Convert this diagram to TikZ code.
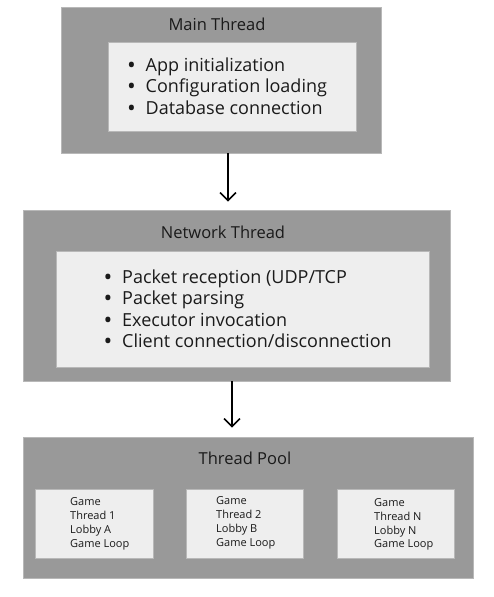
\documentclass[tikz,border=0pt]{standalone}
\usepackage{fontspec}
\setmainfont{Open Sans}
\usetikzlibrary{arrows.meta,calc}
\definecolor{outerg}{HTML}{999999}
\definecolor{innerg}{HTML}{EEEEEE}
\definecolor{edgeg}{HTML}{B8B8B8}
\definecolor{txt}{HTML}{1A1A1A}
\newcommand{\bul}{\makebox[17.5pt][l]{{\bfseries\textbullet}}}
\tikzset{
  outerbox/.style={rectangle, fill=outerg, draw=edgeg, line width=0.6pt, inner sep=0pt},
  innerbox/.style={rectangle, fill=innerg, draw=edgeg, line width=0.5pt, inner sep=0pt},
  titletext/.style={text=txt, font=\fontsize{16.5}{19}\selectfont, inner sep=0pt},
  bullettext/.style={text=txt, font=\fontsize{18}{21.5}\selectfont, align=left, inner sep=0pt, anchor=west},
  gametext/.style={text=txt, font=\fontsize{11}{13.8}\selectfont, align=left, inner sep=0pt, anchor=west},
  arr/.style={-{Straight Barb[length=8pt,width=16pt,line width=1.6pt]}, line width=1.6pt, black}
}
\begin{document}
\begin{tikzpicture}[x=1pt,y=-1pt]
\useasboundingbox (0,0) rectangle (494,597);
\fill[white] (0,0) rectangle (494,597);
% Main thread
\node[outerbox, minimum width=320, minimum height=146] (main) at (221,80) {};
\node[titletext] (mainT) at (217,24) {Main Thread};
\node[innerbox, minimum width=248, minimum height=89] (mainI) at (232,86.5) {};
\node[bullettext] (mainL) at (128,86) {\bul App initialization\\\bul Configuration loading\\\bul Database connection};
% Network thread
\node[outerbox, minimum width=427, minimum height=171] (net) at (236.5,295.5) {};
\node[titletext] (netT) at (223,232) {Network Thread};
\node[innerbox, minimum width=373, minimum height=116] (netI) at (242.5,309) {};
\node[bullettext] (netL) at (104.5,308.5) {\bul Packet reception (UDP/TCP\\\bul Packet parsing\\\bul Executor invocation\\\bul Client connection/disconnection};
% Thread pool
\node[outerbox, minimum width=450, minimum height=141] (pool) at (248,507.5) {};
\node[titletext] (poolT) at (245,458) {Thread Pool};
\node[innerbox, minimum width=118, minimum height=69] (g1) at (94,523.5) {};
\node[innerbox, minimum width=117, minimum height=69] (g2) at (244.5,523.5) {};
\node[innerbox, minimum width=117, minimum height=69] (g3) at (395.5,523.5) {};
\node[gametext] (g1L) at (70,524) {Game\\Thread 1\\Lobby A\\Game Loop};
\node[gametext] (g2L) at (216,523) {Game\\Thread 2\\Lobby B\\Game Loop};
\node[gametext] (g3L) at (374,524.5) {Game\\Thread N\\Lobby N\\Game Loop};
% Arrows
\coordinate (a1) at (228,0);
\coordinate (a2) at (232,0);
\draw[arr, shorten >=8pt] (main.south -| a1) -- (net.north -| a1);
\draw[arr, shorten >=9pt] (net.south -| a2) -- (pool.north -| a2);
\end{tikzpicture}
\end{document}
